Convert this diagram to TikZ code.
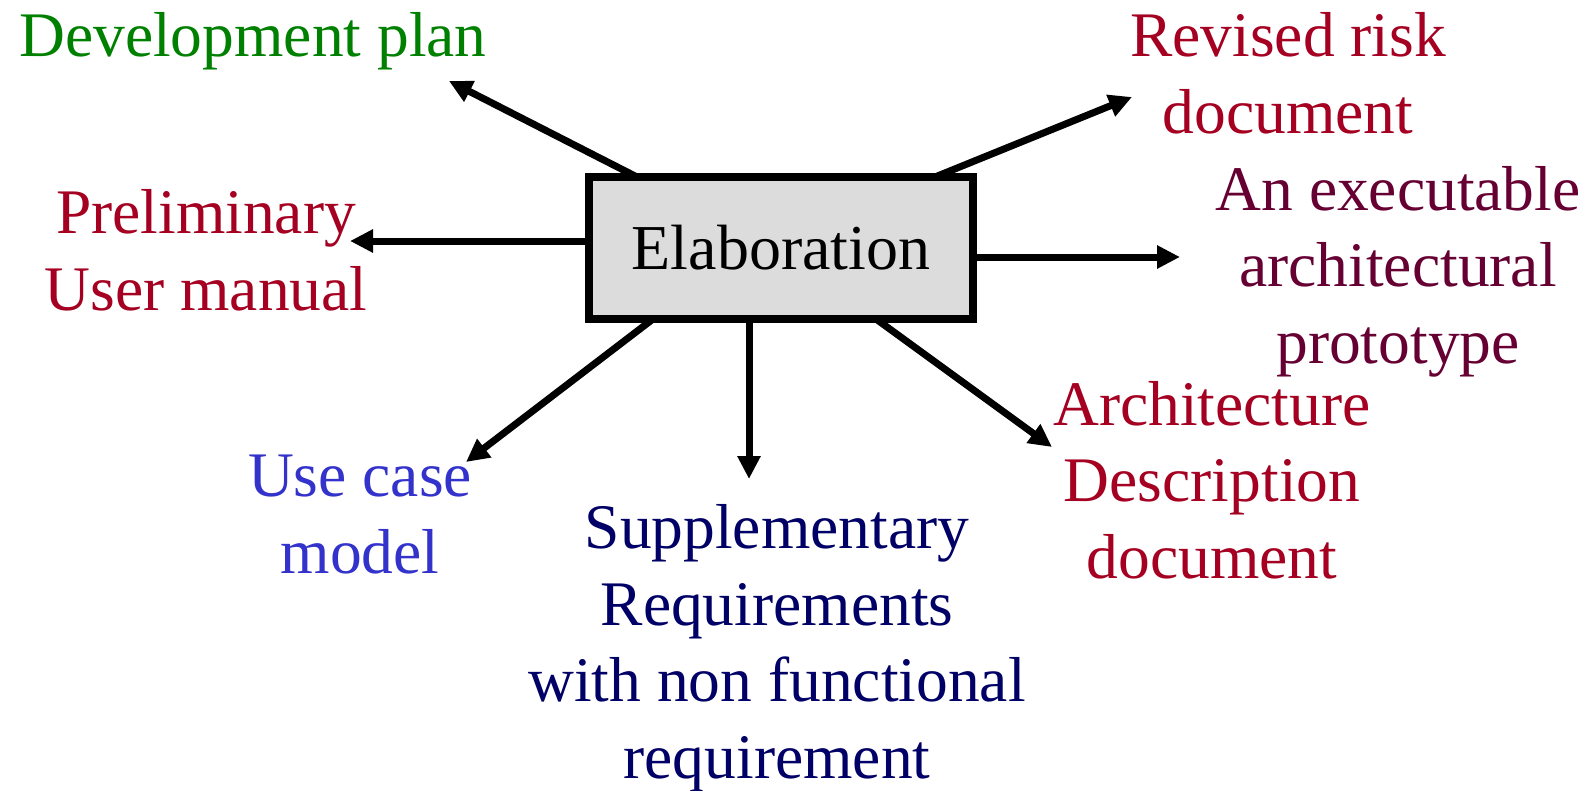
\documentclass[tikz,border=0pt]{standalone}
\usepackage{fontspec}
\setmainfont{Liberation Serif}
\usetikzlibrary{arrows.meta,calc}
\definecolor{cgreen}{RGB}{0,128,0}
\definecolor{ccrimson}{RGB}{165,0,33}
\definecolor{cplum}{RGB}{102,0,51}
\definecolor{cblue}{RGB}{51,51,204}
\definecolor{cnavy}{RGB}{0,0,102}
\definecolor{cbox}{RGB}{220,220,220}
\begin{document}
\begin{tikzpicture}[x=1pt,y=-1pt,
  lbl/.style={align=center,inner sep=0pt,anchor=base,font=\fontsize{63.5}{76.5}\selectfont},
  mainbox/.style={draw=black,fill=cbox,line width=8pt,minimum width=384pt,minimum height=142pt,inner sep=0pt,outer sep=0pt,font=\fontsize{64}{76}\selectfont},
  outarrow/.style={line width=7pt,-{Triangle[length=23pt,width=22pt]}}]
\useasboundingbox (0,0) rectangle (1590,790);
\node[mainbox] (el) at (781,248) {Elaboration};

\node[lbl,text=cgreen] (dev) at (253,56) {Development plan};
\node[lbl,text=ccrimson] (pre) at (206,310) {Preliminary\\User manual};
\node[lbl,text=ccrimson] (rev) at (1288,133) {Revised risk\\document};
\node[lbl,text=cplum] (exe) at (1398,363) {An executable\\architectural\\prototype};
\node[lbl,text=ccrimson] (arc) at (1212,578) {Architecture\\Description\\document};
\node[lbl,text=cblue] (use) at (360,573) {Use case\\model};
\node[lbl,text=cnavy] (sup) at (777,778) {Supplementary\\Requirements\\with non functional\\requirement};

\coordinate (tdev) at (449,81);
\coordinate (tpre) at (350,241);
\coordinate (trev) at (1132,97);
\coordinate (texe) at (1180,257);
\coordinate (tarc) at (1052,447);
\coordinate (tsup) at (749,479);
\coordinate (tuse) at (466,462);

\draw[outarrow] ($(el.north west)+(48,0)$) -- (tdev);
\draw[outarrow] ($(el.west)+(0,-7)$) -- (tpre);
\draw[outarrow] ($(el.north west)+(346,0)$) -- (trev);
\draw[outarrow] ($(el.east)+(0,9)$) -- (texe);
\draw[outarrow] ($(el.south west)+(287,0)$) -- (tarc);
\draw[outarrow] ($(el.south west)+(160,0)$) -- (tsup);
\draw[outarrow] ($(el.south west)+(64,0)$) -- (tuse);
\end{tikzpicture}
\end{document}
